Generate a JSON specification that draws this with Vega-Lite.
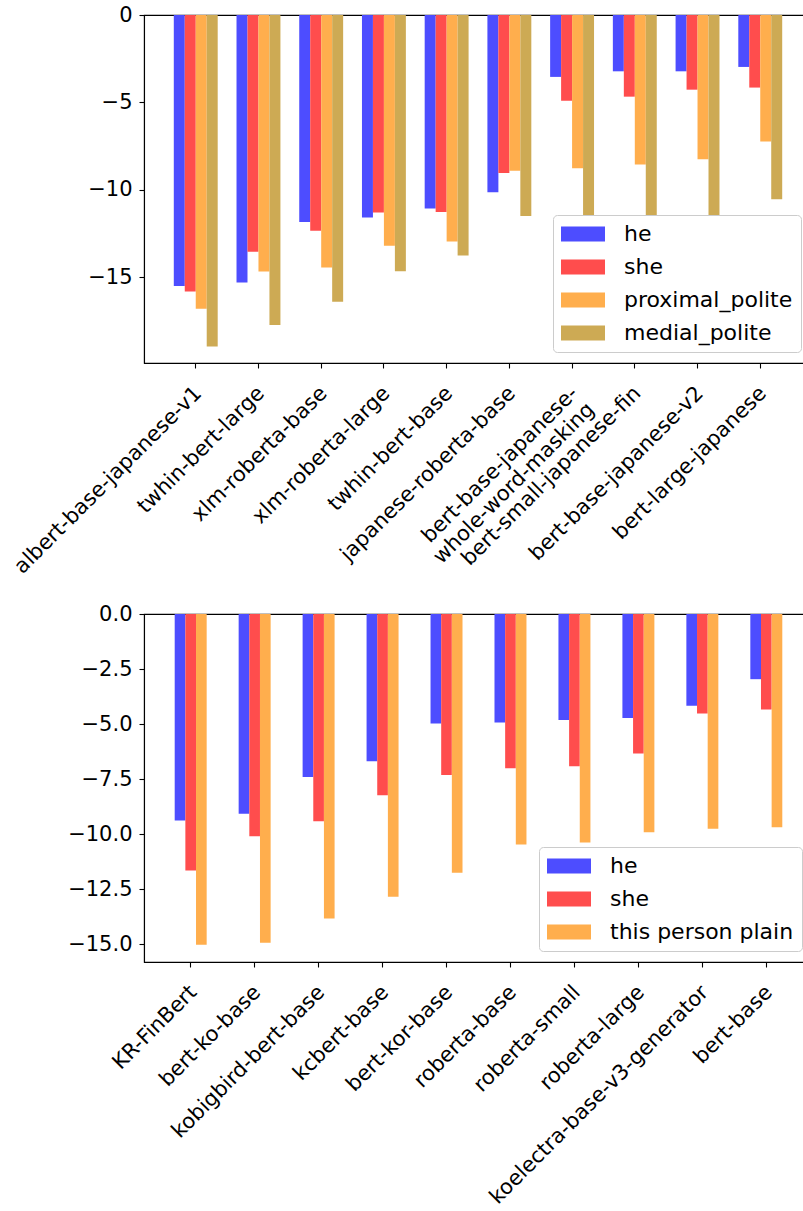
{
  "$schema": "https://vega.github.io/schema/vega-lite/v6.json",
  "background": "white",
  "padding": {"left": 9, "top": 3, "right": 0, "bottom": 0},
  "bounds": "flush",
  "spacing": 251,
  "config": {
    "font": "DejaVu Sans",
    "view": {"stroke": "black", "strokeWidth": 1.1},
    "axis": {"labelFont": "DejaVu Sans", "labelFontSize": 21, "labelColor": "black", "domainColor": "black", "tickColor": "black", "tickSize": 5, "tickWidth": 1.1, "domainWidth": 1.1, "grid": false, "title": null, "labelPadding": 7},
    "legend": {"labelFont": "DejaVu Sans", "labelFontSize": 22, "labelLimit": 0, "labelColor": "black", "padding": 8, "fillColor": "white", "strokeColor": "#cccccc", "cornerRadius": 4, "symbolType": "M-1,-0.34L1,-0.34L1,0.34L-1,0.34Z", "symbolSize": 1936, "symbolStrokeWidth": 0, "symbolOpacity": 1, "labelOffset": 19, "clipHeight": 22, "rowPadding": 11, "title": null, "offset": 11, "orient": "bottom-right"}
  },
  "datasets": {
    "jp": [
      {"model": "albert-base-japanese-v1", "series": "he", "value": -15.49},
      {"model": "albert-base-japanese-v1", "series": "she", "value": -15.81},
      {"model": "albert-base-japanese-v1", "series": "proximal_polite", "value": -16.80},
      {"model": "albert-base-japanese-v1", "series": "medial_polite", "value": -18.95},
      {"model": "twhin-bert-large", "series": "he", "value": -15.30},
      {"model": "twhin-bert-large", "series": "she", "value": -13.54},
      {"model": "twhin-bert-large", "series": "proximal_polite", "value": -14.67},
      {"model": "twhin-bert-large", "series": "medial_polite", "value": -17.73},
      {"model": "xlm-roberta-base", "series": "he", "value": -11.83},
      {"model": "xlm-roberta-base", "series": "she", "value": -12.34},
      {"model": "xlm-roberta-base", "series": "proximal_polite", "value": -14.44},
      {"model": "xlm-roberta-base", "series": "medial_polite", "value": -16.40},
      {"model": "xlm-roberta-large", "series": "he", "value": -11.58},
      {"model": "xlm-roberta-large", "series": "she", "value": -11.30},
      {"model": "xlm-roberta-large", "series": "proximal_polite", "value": -13.20},
      {"model": "xlm-roberta-large", "series": "medial_polite", "value": -14.65},
      {"model": "twhin-bert-base", "series": "he", "value": -11.07},
      {"model": "twhin-bert-base", "series": "she", "value": -11.26},
      {"model": "twhin-bert-base", "series": "proximal_polite", "value": -12.95},
      {"model": "twhin-bert-base", "series": "medial_polite", "value": -13.75},
      {"model": "japanese-roberta-base", "series": "he", "value": -10.13},
      {"model": "japanese-roberta-base", "series": "she", "value": -9.03},
      {"model": "japanese-roberta-base", "series": "proximal_polite", "value": -8.90},
      {"model": "japanese-roberta-base", "series": "medial_polite", "value": -11.49},
      {"model": "bert-base-japanese-\nwhole-word-masking", "series": "he", "value": -3.54},
      {"model": "bert-base-japanese-\nwhole-word-masking", "series": "she", "value": -4.91},
      {"model": "bert-base-japanese-\nwhole-word-masking", "series": "proximal_polite", "value": -8.76},
      {"model": "bert-base-japanese-\nwhole-word-masking", "series": "medial_polite", "value": -12.0},
      {"model": "bert-small-japanese-fin", "series": "he", "value": -3.22},
      {"model": "bert-small-japanese-fin", "series": "she", "value": -4.67},
      {"model": "bert-small-japanese-fin", "series": "proximal_polite", "value": -8.55},
      {"model": "bert-small-japanese-fin", "series": "medial_polite", "value": -12.2},
      {"model": "bert-base-japanese-v2", "series": "he", "value": -3.22},
      {"model": "bert-base-japanese-v2", "series": "she", "value": -4.27},
      {"model": "bert-base-japanese-v2", "series": "proximal_polite", "value": -8.25},
      {"model": "bert-base-japanese-v2", "series": "medial_polite", "value": -11.9},
      {"model": "bert-large-japanese", "series": "he", "value": -2.97},
      {"model": "bert-large-japanese", "series": "she", "value": -4.15},
      {"model": "bert-large-japanese", "series": "proximal_polite", "value": -7.24},
      {"model": "bert-large-japanese", "series": "medial_polite", "value": -10.53}
    ],
    "ko": [
      {"model": "KR-FinBert", "series": "he", "value": -9.37},
      {"model": "KR-FinBert", "series": "she", "value": -11.65},
      {"model": "KR-FinBert", "series": "this person plain", "value": -15.02},
      {"model": "bert-ko-base", "series": "he", "value": -9.07},
      {"model": "bert-ko-base", "series": "she", "value": -10.09},
      {"model": "bert-ko-base", "series": "this person plain", "value": -14.93},
      {"model": "kobigbird-bert-base", "series": "he", "value": -7.40},
      {"model": "kobigbird-bert-base", "series": "she", "value": -9.41},
      {"model": "kobigbird-bert-base", "series": "this person plain", "value": -13.82},
      {"model": "kcbert-base", "series": "he", "value": -6.68},
      {"model": "kcbert-base", "series": "she", "value": -8.23},
      {"model": "kcbert-base", "series": "this person plain", "value": -12.84},
      {"model": "bert-kor-base", "series": "he", "value": -4.97},
      {"model": "bert-kor-base", "series": "she", "value": -7.31},
      {"model": "bert-kor-base", "series": "this person plain", "value": -11.75},
      {"model": "roberta-base", "series": "he", "value": -4.93},
      {"model": "roberta-base", "series": "she", "value": -7.00},
      {"model": "roberta-base", "series": "this person plain", "value": -10.47},
      {"model": "roberta-small", "series": "he", "value": -4.81},
      {"model": "roberta-small", "series": "she", "value": -6.91},
      {"model": "roberta-small", "series": "this person plain", "value": -10.38},
      {"model": "roberta-large", "series": "he", "value": -4.72},
      {"model": "roberta-large", "series": "she", "value": -6.33},
      {"model": "roberta-large", "series": "this person plain", "value": -9.91},
      {"model": "koelectra-base-v3-generator", "series": "he", "value": -4.16},
      {"model": "koelectra-base-v3-generator", "series": "she", "value": -4.52},
      {"model": "koelectra-base-v3-generator", "series": "this person plain", "value": -9.75},
      {"model": "bert-base", "series": "he", "value": -2.96},
      {"model": "bert-base", "series": "she", "value": -4.34},
      {"model": "bert-base", "series": "this person plain", "value": -9.68}
    ]
  },
  "resolve": {"scale": {"color": "independent", "x": "independent", "y": "independent", "xOffset": "independent"}, "legend": {"color": "independent"}},
  "vconcat": [
    {
      "width": 668,
      "height": 348,
      "data": {"name": "jp"},
      "mark": {"type": "bar"},
      "encoding": {
        "x": {"field": "model", "type": "nominal", "sort": null, "scale": {"paddingInner": 0.3, "paddingOuter": 0.475}, "axis": {"labelAngle": -45, "labelAlign": "right", "labelBaseline": "top", "labelLimit": 0, "labelOffset": -5, "labelPadding": 14, "labelExpr": "split(datum.label, '\\n')"}},
        "xOffset": {"field": "series", "type": "nominal", "sort": ["he", "she", "proximal_polite", "medial_polite"], "scale": {"paddingInner": 0, "paddingOuter": 0}},
        "y": {"field": "value", "type": "quantitative", "scale": {"domain": [-19.9, 0], "nice": false, "zero": false}, "axis": {"values": [0, -5, -10, -15]}},
        "color": {"field": "series", "type": "nominal", "sort": ["he", "she", "proximal_polite", "medial_polite"], "scale": {"domain": ["he", "she", "proximal_polite", "medial_polite"], "range": ["#4d4dff", "#ff4d4d", "#ffae4d", "#cdaa54"]}}
      }
    },
    {
      "width": 669,
      "height": 348,
      "data": {"name": "ko"},
      "mark": {"type": "bar"},
      "encoding": {
        "x": {"field": "model", "type": "nominal", "sort": null, "scale": {"paddingInner": 0.5, "paddingOuter": 0.48}, "axis": {"labelAngle": -45, "labelAlign": "right", "labelBaseline": "top", "labelLimit": 0, "labelOffset": -5, "labelPadding": 14}},
        "xOffset": {"field": "series", "type": "nominal", "sort": ["he", "she", "this person plain"], "scale": {"paddingInner": 0, "paddingOuter": 0}},
        "y": {"field": "value", "type": "quantitative", "scale": {"domain": [-15.8, 0], "nice": false, "zero": false}, "axis": {"values": [0, -2.5, -5, -7.5, -10, -12.5, -15], "format": ".1f"}},
        "color": {"field": "series", "type": "nominal", "sort": ["he", "she", "this person plain"], "scale": {"domain": ["he", "she", "this person plain"], "range": ["#4d4dff", "#ff4d4d", "#ffae4d"]}}
      }
    }
  ]
}
